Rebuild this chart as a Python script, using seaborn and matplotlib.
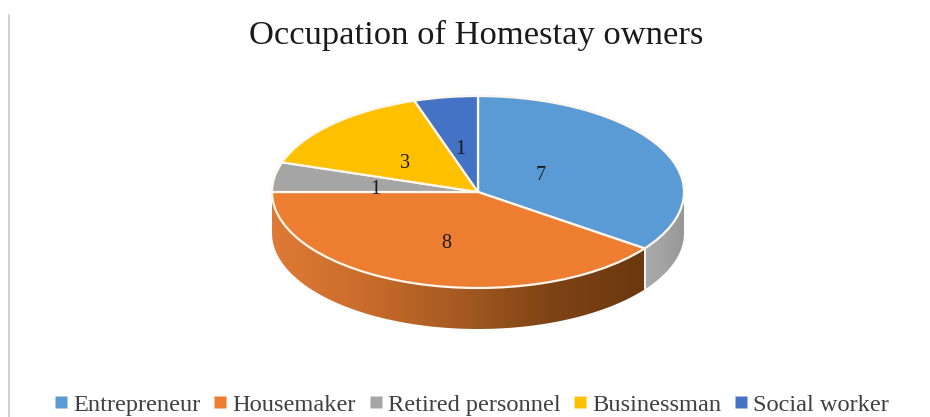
import numpy as np
import pandas as pd
import matplotlib
matplotlib.use("Agg")
import matplotlib.pyplot as plt
import seaborn as sns
from matplotlib.colors import LinearSegmentedColormap
from matplotlib.lines import Line2D

categories = ["Entrepreneur", "Housemaker", "Retired personnel", "Businessman", "Social worker"]
counts = [7, 8, 1, 3, 1]
colors = ["#5B9BD5", "#ED7D31", "#A5A5A5", "#FFC000", "#4472C4"]
title = "Occupation of Homestay owners"

sns.set_theme(style="white")
plt.rcParams["font.family"] = ["Liberation Serif", "DejaVu Serif"]

df = pd.DataFrame({"occupation": categories, "count": counts})
palette = sns.color_palette(colors)

# pixel geometry of the tilted pie
W, H = 930, 417
CX, CY = 478, 192
RX, RY = 206, 96
DEPTH = 41 / RY


def px(x, y):
    return (x - CX) / RX, (CY - y) / RY


def side_wall(ax, theta1, theta2, cmap):
    # front wall of the disc, filled with a left to right gradient
    t = np.radians(np.linspace(theta1, theta2, 120))
    x = np.cos(t)
    y = np.sin(t)
    poly = ax.fill_between(x, y - DEPTH, y, color="none", lw=0)
    grad = np.linspace(0, 1, 256).reshape(1, -1)
    im = ax.imshow(grad, cmap=cmap, extent=(x.min(), x.max(), (y - DEPTH).min(), y.max()),
                   aspect="auto", zorder=0.5)
    im.set_clip_path(poly.get_paths()[0], transform=ax.transData)


fig = plt.figure(figsize=(W / 100, H / 100), dpi=100)
ax = fig.add_axes([0, 0, 1, 1])
wedges, _ = ax.pie(
    df["count"],
    colors=palette,
    startangle=90,
    counterclock=False,
    wedgeprops={"edgecolor": "#FFF6EC", "linewidth": 1.6},
)
ax.set_aspect("auto")

orange_wall = LinearSegmentedColormap.from_list("o", ["#DE7A35", "#C96C2B", "#A55A22", "#7E4315", "#6B380F"])
grey_wall = LinearSegmentedColormap.from_list("g", ["#ABABAB", "#A2A2A2", "#969696"])
side_wall(ax, wedges[1].theta1, wedges[1].theta2, orange_wall)
side_wall(ax, wedges[0].theta1, 0, grey_wall)

# white seam where the two walls meet
seam = np.radians(wedges[0].theta1)
ax.plot([np.cos(seam)] * 2, [np.sin(seam), np.sin(seam) - DEPTH], color="#F4F4F4", lw=1.4, zorder=2)

ax.set_xlim(px(0, 0)[0], px(W, 0)[0])
ax.set_ylim(px(0, H)[1], px(0, 0)[1])

label_pos = [(541, 175.5), (446, 244), (375, 189), (405, 163.5), (460, 149)]
for n, (lx, ly) in zip(counts, label_pos):
    ax.text(*px(lx, ly), str(n), ha="center", va="center", fontsize=14.5, color="#1A1A1A", zorder=5)

ax.text(*px(476, 44), title, ha="center", va="baseline", fontsize=24.8, color="#1A1A1A")

# thin rule on the left edge of the page
ax.plot([px(9, 0)[0]] * 2, [px(0, 15)[1], px(0, H)[1]], color="#C8C8C8", lw=1.2, zorder=1)

handles = [Line2D([], [], ls="none", marker="s", ms=8, mfc=c, mec="none") for c in colors]
ax.legend(
    handles,
    categories,
    ncol=5,
    loc="center",
    bbox_to_anchor=(471.5 / W, 1 - 404.5 / H),
    bbox_transform=fig.transFigure,
    frameon=False,
    fontsize=17.6,
    handlelength=0.6,
    handletextpad=0.2,
    columnspacing=0.5,
    labelcolor="#404040",
    borderpad=0,
)

fig.savefig("out.png", dpi=100, facecolor="white")
